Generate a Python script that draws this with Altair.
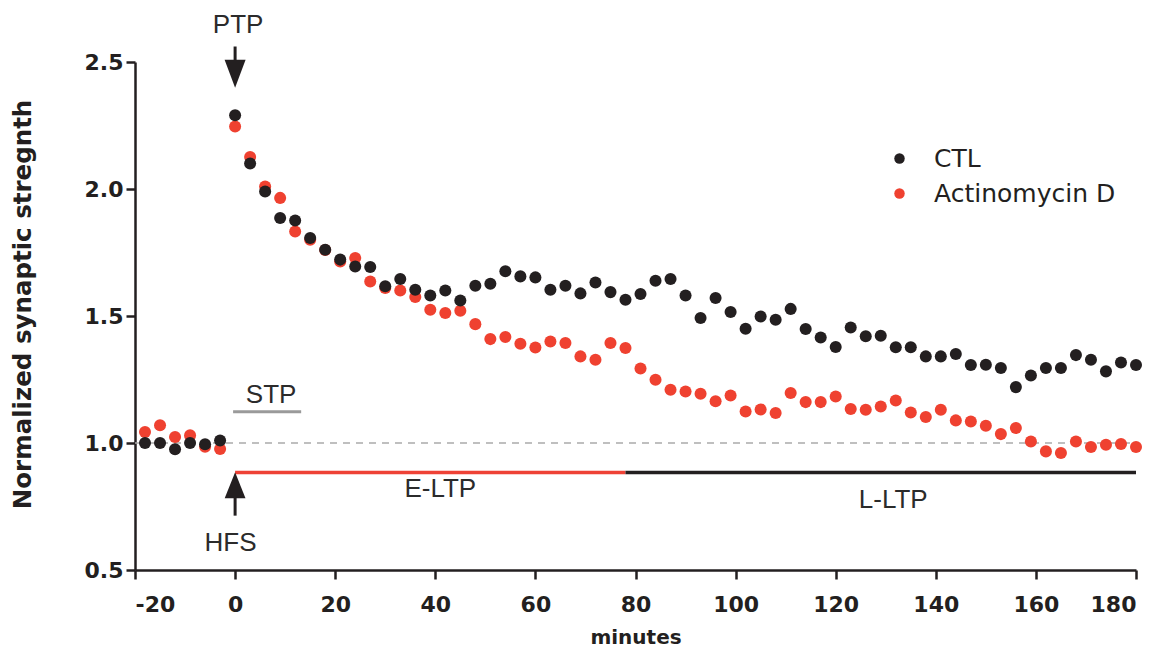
import altair as alt
import pandas as pd

# ---- data ----
series_names = ["CTL", "Actinomycin D"]
series_colors = ["#231f20", "#ef4130"]

time_pre = [-18, -15, -12, -9, -6, -3]
time_post = list(range(0, 181, 3))

ctl_pre = [1.00, 1.00, 0.975, 1.00, 0.995, 1.01]
act_pre = [1.043, 1.07, 1.024, 1.03, 0.985, 0.976]

ctl_post = [2.29, 2.10, 1.99, 1.886, 1.876, 1.807, 1.761, 1.722, 1.695, 1.693,
            1.617, 1.646, 1.603, 1.581, 1.60, 1.561, 1.619, 1.627, 1.676, 1.656,
            1.652, 1.603, 1.619, 1.589, 1.632, 1.594, 1.564, 1.587, 1.639, 1.646,
            1.581, 1.492, 1.571, 1.516, 1.45, 1.498, 1.485, 1.528, 1.449, 1.415,
            1.378, 1.455, 1.42, 1.422, 1.377, 1.377, 1.341, 1.341, 1.35, 1.307,
            1.308, 1.295, 1.22, 1.266, 1.295, 1.295, 1.346, 1.328, 1.282, 1.317,
            1.307]
act_post = [2.246, 2.126, 2.01, 1.965, 1.833, 1.80, 1.76, 1.715, 1.728, 1.636,
            1.61, 1.60, 1.575, 1.525, 1.512, 1.521, 1.468, 1.409, 1.417, 1.391,
            1.376, 1.40, 1.394, 1.341, 1.328, 1.394, 1.374, 1.293, 1.249, 1.21,
            1.203, 1.194, 1.164, 1.187, 1.124, 1.132, 1.118, 1.197, 1.161, 1.161,
            1.183, 1.134, 1.131, 1.144, 1.167, 1.12, 1.102, 1.131, 1.089, 1.085,
            1.068, 1.035, 1.059, 1.006, 0.967, 0.961, 1.006, 0.984, 0.993, 0.996,
            0.984]

x_ticks = [-20, 0, 20, 40, 60, 80, 100, 120, 140, 160, 180]
y_ticks = [0.5, 1.0, 1.5, 2.0, 2.5]

# phase bars
phase_names = ["E-LTP", "L-LTP"]
phase_start = [0, 78]
phase_end = [78, 180]
phase_level = 0.884
phase_colors = ["#ee4236", "#231f20"]

# text annotations
ann_text = ["PTP", "HFS", "STP", "E-LTP", "L-LTP"]
ann_x = [0.6, -0.9, 7.2, 41, 131.5]
ann_y = [2.647, 0.607, 1.19, 0.82, 0.777]

# ---- build tables ----
rows = []
for name, pre, post in [("Actinomycin D", act_pre, act_post), ("CTL", ctl_pre, ctl_post)]:
    for t, v in zip(time_pre + time_post, pre + post):
        rows.append({"minutes": t, "value": v, "group": name})
df = pd.DataFrame(rows)

phase_df = pd.DataFrame({"name": phase_names, "x": phase_start, "x2": phase_end,
                         "y": [phase_level] * 2})
ann_df = pd.DataFrame({"text": ann_text, "x": ann_x, "y": ann_y})

xs = alt.Scale(domain=[-20, 180], nice=False, zero=False)
ys = alt.Scale(domain=[0.5, 2.5], nice=False, zero=False)

axis_common = dict(
    grid=False, domainColor="#231f20", domainWidth=2.5, tickColor="#231f20",
    tickWidth=2.5, tickSize=9, labelColor="#231f20", labelFont="DejaVu Sans",
    labelFontWeight="bold", labelFontSize=22, titleColor="#231f20",
    titleFont="DejaVu Sans", titleFontWeight="bold",
)

X = alt.X("minutes:Q", scale=xs,
          axis=alt.Axis(values=x_ticks, title="minutes", titleFontSize=20,
                        labelExpr="toString(datum.value)",
                        labelPadding=15, titlePadding=12, **axis_common))
Y = alt.Y("value:Q", scale=ys,
          axis=alt.Axis(values=y_ticks, format=".1f",
                        title="Normalized synaptic stregnth", titleFontSize=24.5,
                        titleY=242,
                        labelPadding=3, titlePadding=49, **axis_common))

base_line = alt.Chart(pd.DataFrame({"x": [-20], "x2": [180], "y": [1.0]})).mark_rule(
    color="#aaaaaa", strokeWidth=1.5, strokeDash=[7, 6]
).encode(x=alt.X("x:Q", scale=xs), x2="x2:Q", y=alt.Y("y:Q", scale=ys))

stp_line = alt.Chart(pd.DataFrame({"x": [-0.4], "x2": [13.2], "y": [1.123]})).mark_rule(
    color="#9a9a9a", strokeWidth=3
).encode(x=alt.X("x:Q", scale=xs), x2="x2:Q", y=alt.Y("y:Q", scale=ys))

phase_lines = alt.Chart(phase_df).mark_rule(strokeWidth=3.5).encode(
    x=alt.X("x:Q", scale=xs), x2="x2:Q", y=alt.Y("y:Q", scale=ys),
    color=alt.Color("name:N", scale=alt.Scale(domain=phase_names, range=phase_colors),
                    legend=None),
)

points = alt.Chart(df).mark_circle(size=145, opacity=1).encode(
    x=X, y=Y,
    color=alt.Color("group:N",
                    scale=alt.Scale(domain=series_names, range=series_colors),
                    legend=alt.Legend(orient="none", legendX=752, legendY=84,
                                      title=None, symbolType="circle",
                                      symbolSize=110, labelFont="DejaVu Sans",
                                      labelFontSize=25, labelColor="#231f20",
                                      labelLimit=0,
                                      labelOffset=22, rowPadding=9, padding=0)),
)

# arrows
shaft_df = pd.DataFrame({"x": [0, 0], "y": [2.561, 0.816], "y2": [2.47, 0.714]})
shafts = alt.Chart(shaft_df).mark_rule(color="#231f20", strokeWidth=3).encode(
    x=alt.X("x:Q", scale=xs), y=alt.Y("y:Q", scale=ys), y2="y2:Q")

head_down = alt.Chart(pd.DataFrame({"x": [0], "y": [2.454]})).mark_point(
    shape="M-0.75,-1L0.75,-1L0,1Z", size=784, filled=True, color="#231f20", opacity=1
).encode(x=alt.X("x:Q", scale=xs), y=alt.Y("y:Q", scale=ys))

head_up = alt.Chart(pd.DataFrame({"x": [0], "y": [0.834]})).mark_point(
    shape="M-0.8,1L0.8,1L0,-1Z", size=676, filled=True, color="#231f20", opacity=1
).encode(x=alt.X("x:Q", scale=xs), y=alt.Y("y:Q", scale=ys))

labels = alt.Chart(ann_df).mark_text(
    font="Liberation Sans", fontSize=26, color="#2b2b2b", align="center",
    baseline="middle"
).encode(x=alt.X("x:Q", scale=xs), y=alt.Y("y:Q", scale=ys), text="text:N")

chart = alt.layer(
    base_line, stp_line, phase_lines, points, shafts, head_down, head_up, labels
).resolve_scale(color="independent").properties(
    width=1001, height=508,
    padding={"left": 135, "top": 62, "right": 35, "bottom": 82},
    autosize=alt.AutoSizeParams(type="none"),
    background="white",
).configure_view(stroke=None)

chart.save("out.html", embed_options={"renderer": "svg", "actions": False})
